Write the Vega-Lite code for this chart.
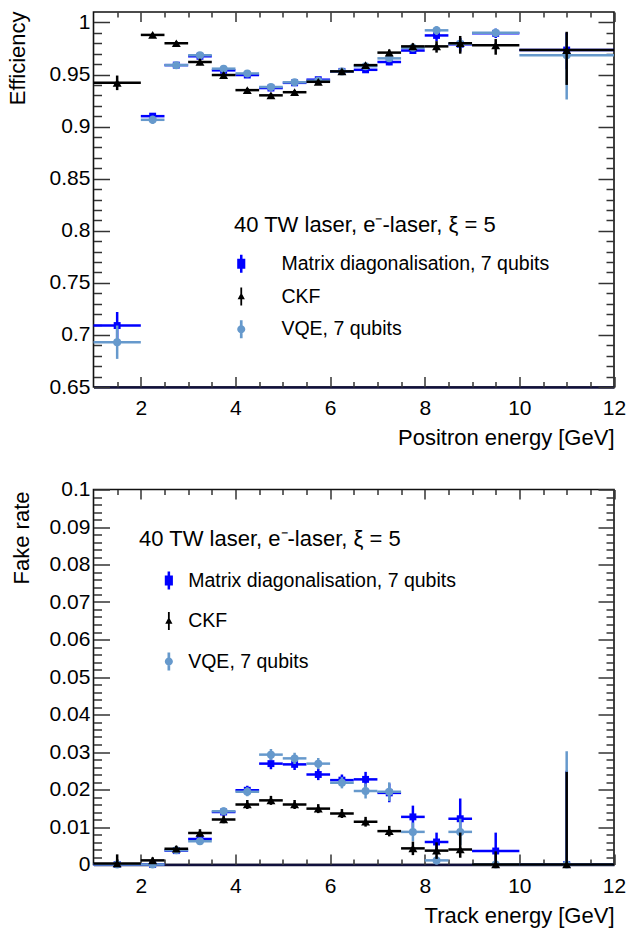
{
"$schema":"https://vega.github.io/schema/vega-lite/v6.json",
"autosize":{"type":"pad"},
"padding":{"left":5.5,"top":10,"right":0,"bottom":0},
"background":"white",
"spacing":102.5,
"bounds":"flush",
"config":{"font":"Liberation Sans","view":{"stroke":"#111","strokeWidth":1.6},
 "axis":{"grid":false,"domain":false,"ticks":false,"labels":false,"labelFont":"Liberation Sans","titleFont":"Liberation Sans","labelColor":"#000","titleColor":"#000","titleFontWeight":"normal","labelFlush":false,"labelOverlap":false,"labelBound":false,"tickColor":"#333","tickWidth":1.5}},
"resolve":{"scale":{"x":"independent","y":"independent","color":"independent"},"axis":{"x":"independent","y":"independent"},"legend":{"color":"independent"}},
"datasets":{
"eff":[
{"s":"Matrix diagonalisation, 7 qubits","x":1.5,"xlo":1,"xhi":2,"y":0.709,"ylo":0.696,"yhi":0.722},
{"s":"Matrix diagonalisation, 7 qubits","x":2.25,"xlo":2,"xhi":2.5,"y":0.91,"ylo":0.907,"yhi":0.913},
{"s":"Matrix diagonalisation, 7 qubits","x":2.75,"xlo":2.5,"xhi":3,"y":0.959,"ylo":0.957,"yhi":0.961},
{"s":"Matrix diagonalisation, 7 qubits","x":3.25,"xlo":3,"xhi":3.5,"y":0.9675,"ylo":0.9655,"yhi":0.9695},
{"s":"Matrix diagonalisation, 7 qubits","x":3.75,"xlo":3.5,"xhi":4,"y":0.954,"ylo":0.952,"yhi":0.956},
{"s":"Matrix diagonalisation, 7 qubits","x":4.25,"xlo":4,"xhi":4.5,"y":0.9495,"ylo":0.9475,"yhi":0.9515},
{"s":"Matrix diagonalisation, 7 qubits","x":4.75,"xlo":4.5,"xhi":5,"y":0.937,"ylo":0.935,"yhi":0.939},
{"s":"Matrix diagonalisation, 7 qubits","x":5.25,"xlo":5,"xhi":5.5,"y":0.942,"ylo":0.94,"yhi":0.944},
{"s":"Matrix diagonalisation, 7 qubits","x":5.75,"xlo":5.5,"xhi":6,"y":0.945,"ylo":0.943,"yhi":0.947},
{"s":"Matrix diagonalisation, 7 qubits","x":6.25,"xlo":6,"xhi":6.5,"y":0.953,"ylo":0.951,"yhi":0.955},
{"s":"Matrix diagonalisation, 7 qubits","x":6.75,"xlo":6.5,"xhi":7,"y":0.9545,"ylo":0.9525,"yhi":0.9565},
{"s":"Matrix diagonalisation, 7 qubits","x":7.25,"xlo":7,"xhi":7.5,"y":0.962,"ylo":0.959,"yhi":0.965},
{"s":"Matrix diagonalisation, 7 qubits","x":7.75,"xlo":7.5,"xhi":8,"y":0.973,"ylo":0.97,"yhi":0.976},
{"s":"Matrix diagonalisation, 7 qubits","x":8.25,"xlo":8,"xhi":8.5,"y":0.9875,"ylo":0.982,"yhi":0.993},
{"s":"Matrix diagonalisation, 7 qubits","x":8.75,"xlo":8.5,"xhi":9,"y":0.979,"ylo":0.972,"yhi":0.985},
{"s":"Matrix diagonalisation, 7 qubits","x":9.5,"xlo":9,"xhi":10,"y":0.9895,"ylo":0.985,"yhi":0.994},
{"s":"Matrix diagonalisation, 7 qubits","x":11,"xlo":10,"xhi":12,"y":0.9735,"ylo":0.955,"yhi":0.99},
{"s":"VQE, 7 qubits","x":1.5,"xlo":1,"xhi":2,"y":0.693,"ylo":0.677,"yhi":0.709},
{"s":"VQE, 7 qubits","x":2.25,"xlo":2,"xhi":2.5,"y":0.9065,"ylo":0.9025,"yhi":0.9105},
{"s":"VQE, 7 qubits","x":2.75,"xlo":2.5,"xhi":3,"y":0.959,"ylo":0.957,"yhi":0.961},
{"s":"VQE, 7 qubits","x":3.25,"xlo":3,"xhi":3.5,"y":0.9685,"ylo":0.9665,"yhi":0.9705},
{"s":"VQE, 7 qubits","x":3.75,"xlo":3.5,"xhi":4,"y":0.9556,"ylo":0.9536,"yhi":0.9576},
{"s":"VQE, 7 qubits","x":4.25,"xlo":4,"xhi":4.5,"y":0.951,"ylo":0.949,"yhi":0.953},
{"s":"VQE, 7 qubits","x":4.75,"xlo":4.5,"xhi":5,"y":0.938,"ylo":0.936,"yhi":0.94},
{"s":"VQE, 7 qubits","x":5.25,"xlo":5,"xhi":5.5,"y":0.9425,"ylo":0.9405,"yhi":0.9445},
{"s":"VQE, 7 qubits","x":5.75,"xlo":5.5,"xhi":6,"y":0.944,"ylo":0.942,"yhi":0.946},
{"s":"VQE, 7 qubits","x":6.25,"xlo":6,"xhi":6.5,"y":0.953,"ylo":0.951,"yhi":0.955},
{"s":"VQE, 7 qubits","x":6.75,"xlo":6.5,"xhi":7,"y":0.958,"ylo":0.956,"yhi":0.96},
{"s":"VQE, 7 qubits","x":7.25,"xlo":7,"xhi":7.5,"y":0.9655,"ylo":0.9625,"yhi":0.9685},
{"s":"VQE, 7 qubits","x":7.75,"xlo":7.5,"xhi":8,"y":0.9757,"ylo":0.9727,"yhi":0.9787},
{"s":"VQE, 7 qubits","x":8.25,"xlo":8,"xhi":8.5,"y":0.9924,"ylo":0.988,"yhi":0.9965},
{"s":"VQE, 7 qubits","x":8.75,"xlo":8.5,"xhi":9,"y":0.9795,"ylo":0.974,"yhi":0.985},
{"s":"VQE, 7 qubits","x":9.5,"xlo":9,"xhi":10,"y":0.99,"ylo":0.986,"yhi":0.994},
{"s":"VQE, 7 qubits","x":11,"xlo":10,"xhi":12,"y":0.9684,"ylo":0.926,"yhi":0.988},
{"s":"CKF","x":1.5,"xlo":1,"xhi":2,"y":0.942,"ylo":0.935,"yhi":0.949},
{"s":"CKF","x":2.25,"xlo":2,"xhi":2.5,"y":0.988,"ylo":0.986,"yhi":0.99},
{"s":"CKF","x":2.75,"xlo":2.5,"xhi":3,"y":0.98,"ylo":0.978,"yhi":0.982},
{"s":"CKF","x":3.25,"xlo":3,"xhi":3.5,"y":0.962,"ylo":0.959,"yhi":0.965},
{"s":"CKF","x":3.75,"xlo":3.5,"xhi":4,"y":0.9495,"ylo":0.947,"yhi":0.952},
{"s":"CKF","x":4.25,"xlo":4,"xhi":4.5,"y":0.935,"ylo":0.933,"yhi":0.937},
{"s":"CKF","x":4.75,"xlo":4.5,"xhi":5,"y":0.93,"ylo":0.928,"yhi":0.932},
{"s":"CKF","x":5.25,"xlo":5,"xhi":5.5,"y":0.933,"ylo":0.931,"yhi":0.935},
{"s":"CKF","x":5.75,"xlo":5.5,"xhi":6,"y":0.943,"ylo":0.941,"yhi":0.945},
{"s":"CKF","x":6.25,"xlo":6,"xhi":6.5,"y":0.953,"ylo":0.951,"yhi":0.955},
{"s":"CKF","x":6.75,"xlo":6.5,"xhi":7,"y":0.959,"ylo":0.957,"yhi":0.961},
{"s":"CKF","x":7.25,"xlo":7,"xhi":7.5,"y":0.971,"ylo":0.968,"yhi":0.974},
{"s":"CKF","x":7.75,"xlo":7.5,"xhi":8,"y":0.977,"ylo":0.974,"yhi":0.98},
{"s":"CKF","x":8.25,"xlo":8,"xhi":8.5,"y":0.977,"ylo":0.971,"yhi":0.982},
{"s":"CKF","x":8.75,"xlo":8.5,"xhi":9,"y":0.98,"ylo":0.97,"yhi":0.987},
{"s":"CKF","x":9.5,"xlo":9,"xhi":10,"y":0.978,"ylo":0.969,"yhi":0.984},
{"s":"CKF","x":11,"xlo":10,"xhi":12,"y":0.9735,"ylo":0.94,"yhi":0.991}
],
"fake":[
{"s":"Matrix diagonalisation, 7 qubits","x":1.5,"xlo":1,"xhi":2,"y":0,"ylo":0,"yhi":0.0008},
{"s":"Matrix diagonalisation, 7 qubits","x":2.25,"xlo":2,"xhi":2.5,"y":0,"ylo":0,"yhi":0.0005},
{"s":"Matrix diagonalisation, 7 qubits","x":2.75,"xlo":2.5,"xhi":3,"y":0.0037,"ylo":0.0031,"yhi":0.0043},
{"s":"Matrix diagonalisation, 7 qubits","x":3.25,"xlo":3,"xhi":3.5,"y":0.0068,"ylo":0.006,"yhi":0.0076},
{"s":"Matrix diagonalisation, 7 qubits","x":3.75,"xlo":3.5,"xhi":4,"y":0.014,"ylo":0.013,"yhi":0.015},
{"s":"Matrix diagonalisation, 7 qubits","x":4.25,"xlo":4,"xhi":4.5,"y":0.0198,"ylo":0.0186,"yhi":0.021},
{"s":"Matrix diagonalisation, 7 qubits","x":4.75,"xlo":4.5,"xhi":5,"y":0.0269,"ylo":0.0254,"yhi":0.0284},
{"s":"Matrix diagonalisation, 7 qubits","x":5.25,"xlo":5,"xhi":5.5,"y":0.0267,"ylo":0.0252,"yhi":0.0282},
{"s":"Matrix diagonalisation, 7 qubits","x":5.75,"xlo":5.5,"xhi":6,"y":0.024,"ylo":0.0225,"yhi":0.0255},
{"s":"Matrix diagonalisation, 7 qubits","x":6.25,"xlo":6,"xhi":6.5,"y":0.0225,"ylo":0.021,"yhi":0.024},
{"s":"Matrix diagonalisation, 7 qubits","x":6.75,"xlo":6.5,"xhi":7,"y":0.0227,"ylo":0.0207,"yhi":0.0247},
{"s":"Matrix diagonalisation, 7 qubits","x":7.25,"xlo":7,"xhi":7.5,"y":0.0191,"ylo":0.0166,"yhi":0.0216},
{"s":"Matrix diagonalisation, 7 qubits","x":7.75,"xlo":7.5,"xhi":8,"y":0.0127,"ylo":0.0097,"yhi":0.0157},
{"s":"Matrix diagonalisation, 7 qubits","x":8.25,"xlo":8,"xhi":8.5,"y":0.006,"ylo":0.0035,"yhi":0.0085},
{"s":"Matrix diagonalisation, 7 qubits","x":8.75,"xlo":8.5,"xhi":9,"y":0.0122,"ylo":0.0077,"yhi":0.0176},
{"s":"Matrix diagonalisation, 7 qubits","x":9.5,"xlo":9,"xhi":10,"y":0.0036,"ylo":0,"yhi":0.0085},
{"s":"Matrix diagonalisation, 7 qubits","x":11,"xlo":10,"xhi":12,"y":0,"ylo":0,"yhi":0.025},
{"s":"VQE, 7 qubits","x":1.5,"xlo":1,"xhi":2,"y":0,"ylo":0,"yhi":0.0008},
{"s":"VQE, 7 qubits","x":2.25,"xlo":2,"xhi":2.5,"y":0,"ylo":0,"yhi":0.0005},
{"s":"VQE, 7 qubits","x":2.75,"xlo":2.5,"xhi":3,"y":0.0038,"ylo":0.0032,"yhi":0.0044},
{"s":"VQE, 7 qubits","x":3.25,"xlo":3,"xhi":3.5,"y":0.0062,"ylo":0.0054,"yhi":0.007},
{"s":"VQE, 7 qubits","x":3.75,"xlo":3.5,"xhi":4,"y":0.0142,"ylo":0.0132,"yhi":0.0152},
{"s":"VQE, 7 qubits","x":4.25,"xlo":4,"xhi":4.5,"y":0.0194,"ylo":0.0182,"yhi":0.0206},
{"s":"VQE, 7 qubits","x":4.75,"xlo":4.5,"xhi":5,"y":0.0293,"ylo":0.0278,"yhi":0.0308},
{"s":"VQE, 7 qubits","x":5.25,"xlo":5,"xhi":5.5,"y":0.0283,"ylo":0.0268,"yhi":0.0298},
{"s":"VQE, 7 qubits","x":5.75,"xlo":5.5,"xhi":6,"y":0.0269,"ylo":0.0254,"yhi":0.0284},
{"s":"VQE, 7 qubits","x":6.25,"xlo":6,"xhi":6.5,"y":0.0218,"ylo":0.0203,"yhi":0.0233},
{"s":"VQE, 7 qubits","x":6.75,"xlo":6.5,"xhi":7,"y":0.0196,"ylo":0.0176,"yhi":0.0216},
{"s":"VQE, 7 qubits","x":7.25,"xlo":7,"xhi":7.5,"y":0.0194,"ylo":0.0169,"yhi":0.0219},
{"s":"VQE, 7 qubits","x":7.75,"xlo":7.5,"xhi":8,"y":0.0087,"ylo":0.0062,"yhi":0.0112},
{"s":"VQE, 7 qubits","x":8.25,"xlo":8,"xhi":8.5,"y":0.0011,"ylo":0,"yhi":0.0023},
{"s":"VQE, 7 qubits","x":8.75,"xlo":8.5,"xhi":9,"y":0.0087,"ylo":0.0052,"yhi":0.0122},
{"s":"VQE, 7 qubits","x":9.5,"xlo":9,"xhi":10,"y":0,"ylo":0,"yhi":0.0008},
{"s":"VQE, 7 qubits","x":11,"xlo":10,"xhi":12,"y":0,"ylo":0,"yhi":0.0302},
{"s":"CKF","x":1.5,"xlo":1,"xhi":2,"y":0.0003,"ylo":0,"yhi":0.0027},
{"s":"CKF","x":2.25,"xlo":2,"xhi":2.5,"y":0.0011,"ylo":0.0003,"yhi":0.0019},
{"s":"CKF","x":2.75,"xlo":2.5,"xhi":3,"y":0.0042,"ylo":0.0034,"yhi":0.005},
{"s":"CKF","x":3.25,"xlo":3,"xhi":3.5,"y":0.0084,"ylo":0.0074,"yhi":0.0094},
{"s":"CKF","x":3.75,"xlo":3.5,"xhi":4,"y":0.012,"ylo":0.011,"yhi":0.013},
{"s":"CKF","x":4.25,"xlo":4,"xhi":4.5,"y":0.016,"ylo":0.0148,"yhi":0.0172},
{"s":"CKF","x":4.75,"xlo":4.5,"xhi":5,"y":0.0171,"ylo":0.0159,"yhi":0.0183},
{"s":"CKF","x":5.25,"xlo":5,"xhi":5.5,"y":0.016,"ylo":0.0148,"yhi":0.0172},
{"s":"CKF","x":5.75,"xlo":5.5,"xhi":6,"y":0.0149,"ylo":0.0137,"yhi":0.0161},
{"s":"CKF","x":6.25,"xlo":6,"xhi":6.5,"y":0.0136,"ylo":0.0124,"yhi":0.0148},
{"s":"CKF","x":6.75,"xlo":6.5,"xhi":7,"y":0.0114,"ylo":0.0101,"yhi":0.0127},
{"s":"CKF","x":7.25,"xlo":7,"xhi":7.5,"y":0.0089,"ylo":0.0075,"yhi":0.0103},
{"s":"CKF","x":7.75,"xlo":7.5,"xhi":8,"y":0.0043,"ylo":0.0025,"yhi":0.0061},
{"s":"CKF","x":8.25,"xlo":8,"xhi":8.5,"y":0.0037,"ylo":0.0015,"yhi":0.0059},
{"s":"CKF","x":8.75,"xlo":8.5,"xhi":9,"y":0.004,"ylo":0.0018,"yhi":0.0085},
{"s":"CKF","x":9.5,"xlo":9,"xhi":10,"y":0,"ylo":0,"yhi":0.0035},
{"s":"CKF","x":11,"xlo":10,"xhi":12,"y":0,"ylo":0,"yhi":0.0247}
]},
"vconcat":[
{"width":520.5,"height":375,"data":{"name":"eff"},
 "resolve":{"axis":{"x":"independent","y":"independent"}},
 "layer":[
 {"transform":[{"filter":"datum.s==='Matrix diagonalisation, 7 qubits'"}],
  "mark":{"type":"rule","color":"#0000ff","strokeWidth":2.5},
  "encoding":{"x":{"field":"xlo","type":"quantitative","scale":{"domain":[1,12],"nice":false,"zero":false},
     "axis":{"orient":"bottom","values":[2,4,6,8,10,12],"format":"d","labels":true,"labelFontSize":21,"labelPadding":10.3,"labelBaseline":"top","domain":true,"domainColor":"#10103c","domainWidth":2.5,"ticks":false,"title":"Positron energy [GeV]","titleFontSize":22,"titleX":520.5,"titleY":57,"titleAlign":"right","titleBaseline":"alphabetic","titleAngle":0}},
   "x2":{"field":"xhi"},
   "y":{"field":"y","type":"quantitative","scale":{"domain":[0.65,1.01],"nice":false,"zero":false},
     "axis":{"orient":"left","values":[0.65,0.7,0.75,0.8,0.85,0.9,0.95,1],"format":".2~f","labels":true,"labelFontSize":21,"labelPadding":3.6,"ticks":false,"title":"Efficiency","titleFontSize":22,"titleAngle":-90,"titleX":-68.6,"titleY":-1,"titleAlign":"right","titleBaseline":"alphabetic"}}}},
 {"transform":[{"filter":"datum.s==='Matrix diagonalisation, 7 qubits'"}],
  "mark":{"type":"rule","color":"#0000ff","strokeWidth":2.5},
  "encoding":{"x":{"field":"x","type":"quantitative","scale":{"domain":[1,12],"nice":false,"zero":false},
     "axis":{"orient":"bottom","values":[2,4,6,8,10,12],"ticks":true,"tickSize":-10.5,"title":null}},
   "y":{"field":"ylo","type":"quantitative","scale":{"domain":[0.65,1.01],"nice":false,"zero":false},
     "axis":{"orient":"left","values":[0.65,0.7,0.75,0.8,0.85,0.9,0.95,1],"ticks":true,"tickSize":-16,"title":null}},
   "y2":{"field":"yhi"}}},
 {"transform":[{"filter":"datum.s==='Matrix diagonalisation, 7 qubits'"}],
  "mark":{"type":"point","shape":"square","filled":true,"size":48,"opacity":1},
  "encoding":{"x":{"field":"x","type":"quantitative","scale":{"domain":[1,12],"nice":false,"zero":false},
     "axis":{"orient":"bottom","values":[1.5,2.5,3,3.5,4.5,5,5.5,6.5,7,7.5,8.5,9,9.5,10.5,11,11.5],"ticks":true,"tickSize":-5.5,"title":null}},
   "y":{"field":"y","type":"quantitative","scale":{"domain":[0.65,1.01],"nice":false,"zero":false},
     "axis":{"orient":"left","values":[0.66,0.67,0.68,0.69,0.71,0.72,0.73,0.74,0.76,0.77,0.78,0.79,0.81,0.82,0.83,0.84,0.86,0.87,0.88,0.89,0.91,0.92,0.93,0.94,0.96,0.97,0.98,0.99],"ticks":true,"tickSize":-8,"title":null}},
   "color":{"field":"s","type":"nominal","scale":{"domain":["Matrix diagonalisation, 7 qubits","CKF","VQE, 7 qubits"],"range":["#0000ff","#000000","#6699cc"]},
     "legend":{"orient":"none","legendX":140.5,"legendY":203.2,"title":"40 TW laser, e⁻-laser, ξ = 5","titleFontSize":22,"titleFontWeight":"normal","titleColor":"#000","titleFont":"Liberation Sans","titlePadding":16.8,"titleLimit":600,"labelFontSize":19.5,"labelColor":"#000","labelFont":"Liberation Sans","labelLimit":600,"labelOffset":30.4,"symbolOffset":-2.5,"symbolSize":324,"symbolStrokeWidth":0,"symbolOpacity":1,"rowPadding":11.8,"padding":0,
      "encode":{"symbols":{"update":{"shape":{"signal":"datum.value==='CKF' ? 'M-0.1,-1h0.2v2h-0.2zM0,-0.45L0.4,0.3L-0.4,0.3z' : datum.value==='VQE, 7 qubits' ? 'M-0.15,-1h0.3v2h-0.3zM-0.45,0A0.45,0.45 0 1,1 0.45,0A0.45,0.45 0 1,1 -0.45,0z' : 'M-0.14,-1h0.28v2h-0.28zM-0.45,-0.55h0.9v1.1h-0.9z'"}}}}}}}},
 {"transform":[{"filter":"datum.s==='VQE, 7 qubits'"}],
  "mark":{"type":"rule","color":"#6699cc","strokeWidth":2.5},
  "encoding":{"x":{"field":"xlo","type":"quantitative","scale":{"domain":[1,12],"nice":false,"zero":false},
     "axis":{"orient":"top","values":[2,4,6,8,10,12],"ticks":true,"tickSize":-9.5,"title":null}},
   "x2":{"field":"xhi"},
   "y":{"field":"y","type":"quantitative","scale":{"domain":[0.65,1.01],"nice":false,"zero":false},
     "axis":{"orient":"right","values":[0.65,0.7,0.75,0.8,0.85,0.9,0.95,1],"ticks":true,"tickSize":-16,"title":null}}}},
 {"transform":[{"filter":"datum.s==='VQE, 7 qubits'"}],
  "mark":{"type":"rule","color":"#6699cc","strokeWidth":2.5},
  "encoding":{"x":{"field":"x","type":"quantitative","scale":{"domain":[1,12],"nice":false,"zero":false},
     "axis":{"orient":"top","values":[1.5,2.5,3,3.5,4.5,5,5.5,6.5,7,7.5,8.5,9,9.5,10.5,11,11.5],"ticks":true,"tickSize":-5,"title":null}},
   "y":{"field":"ylo","type":"quantitative","scale":{"domain":[0.65,1.01],"nice":false,"zero":false},
     "axis":{"orient":"right","values":[0.66,0.67,0.68,0.69,0.71,0.72,0.73,0.74,0.76,0.77,0.78,0.79,0.81,0.82,0.83,0.84,0.86,0.87,0.88,0.89,0.91,0.92,0.93,0.94,0.96,0.97,0.98,0.99],"ticks":true,"tickSize":-8,"title":null}},
   "y2":{"field":"yhi"}}},
 {"transform":[{"filter":"datum.s==='VQE, 7 qubits'"}],
  "mark":{"type":"point","shape":"circle","filled":true,"size":64,"opacity":1},
  "encoding":{"x":{"field":"x","type":"quantitative","scale":{"domain":[1,12],"nice":false,"zero":false},"axis":null},
   "y":{"field":"y","type":"quantitative","scale":{"domain":[0.65,1.01],"nice":false,"zero":false},"axis":null},
   "color":{"field":"s","type":"nominal","scale":{"domain":["Matrix diagonalisation, 7 qubits","CKF","VQE, 7 qubits"],"range":["#0000ff","#000000","#6699cc"]}}}},
 {"transform":[{"filter":"datum.s==='CKF'"}],
  "mark":{"type":"rule","color":"#000000","strokeWidth":2.5},
  "encoding":{"x":{"field":"xlo","type":"quantitative","scale":{"domain":[1,12],"nice":false,"zero":false},"axis":null},
   "x2":{"field":"xhi"},
   "y":{"field":"y","type":"quantitative","scale":{"domain":[0.65,1.01],"nice":false,"zero":false},"axis":null}}},
 {"transform":[{"filter":"datum.s==='CKF'"}],
  "mark":{"type":"rule","color":"#000000","strokeWidth":2.5},
  "encoding":{"x":{"field":"x","type":"quantitative","scale":{"domain":[1,12],"nice":false,"zero":false},"axis":null},
   "y":{"field":"ylo","type":"quantitative","scale":{"domain":[0.65,1.01],"nice":false,"zero":false},"axis":null},
   "y2":{"field":"yhi"}}},
 {"transform":[{"filter":"datum.s==='CKF'"}],
  "mark":{"type":"point","shape":"triangle-up","filled":true,"size":80,"opacity":1},
  "encoding":{"x":{"field":"x","type":"quantitative","scale":{"domain":[1,12],"nice":false,"zero":false},"axis":null},
   "y":{"field":"y","type":"quantitative","scale":{"domain":[0.65,1.01],"nice":false,"zero":false},"axis":null},
   "color":{"field":"s","type":"nominal","scale":{"domain":["Matrix diagonalisation, 7 qubits","CKF","VQE, 7 qubits"],"range":["#0000ff","#000000","#6699cc"]}}}}
 ]},
{"width":520.5,"height":375,"data":{"name":"fake"},
 "resolve":{"axis":{"x":"independent","y":"independent"}},
 "layer":[
 {"transform":[{"filter":"datum.s==='Matrix diagonalisation, 7 qubits'"}],
  "mark":{"type":"rule","color":"#0000ff","strokeWidth":2.5},
  "encoding":{"x":{"field":"xlo","type":"quantitative","scale":{"domain":[1,12],"nice":false,"zero":false},
     "axis":{"orient":"bottom","values":[2,4,6,8,10,12],"format":"d","labels":true,"labelFontSize":21,"labelPadding":11.4,"labelBaseline":"top","domain":true,"domainColor":"#10103c","domainWidth":2.5,"ticks":false,"title":"Track energy [GeV]","titleFontSize":22,"titleX":520.5,"titleY":58.4,"titleAlign":"right","titleBaseline":"alphabetic","titleAngle":0}},
   "x2":{"field":"xhi"},
   "y":{"field":"y","type":"quantitative","scale":{"domain":[0,0.1],"nice":false,"zero":false},
     "axis":{"orient":"left","values":[0,0.01,0.02,0.03,0.04,0.05,0.06,0.07,0.08,0.09,0.1],"format":".2~f","labels":true,"labelFontSize":21,"labelPadding":3.6,"ticks":false,"title":"Fake rate","titleFontSize":22,"titleAngle":-90,"titleX":-65.4,"titleY":1.5,"titleAlign":"right","titleBaseline":"alphabetic"}}}},
 {"transform":[{"filter":"datum.s==='Matrix diagonalisation, 7 qubits'"}],
  "mark":{"type":"rule","color":"#0000ff","strokeWidth":2.5},
  "encoding":{"x":{"field":"x","type":"quantitative","scale":{"domain":[1,12],"nice":false,"zero":false},
     "axis":{"orient":"bottom","values":[2,4,6,8,10,12],"ticks":true,"tickSize":-10.5,"title":null}},
   "y":{"field":"ylo","type":"quantitative","scale":{"domain":[0,0.1],"nice":false,"zero":false},
     "axis":{"orient":"left","values":[0,0.01,0.02,0.03,0.04,0.05,0.06,0.07,0.08,0.09,0.1],"ticks":true,"tickSize":-16,"title":null}},
   "y2":{"field":"yhi"}}},
 {"transform":[{"filter":"datum.s==='Matrix diagonalisation, 7 qubits'"}],
  "mark":{"type":"point","shape":"square","filled":true,"size":48,"opacity":1},
  "encoding":{"x":{"field":"x","type":"quantitative","scale":{"domain":[1,12],"nice":false,"zero":false},
     "axis":{"orient":"bottom","values":[1.5,2.5,3,3.5,4.5,5,5.5,6.5,7,7.5,8.5,9,9.5,10.5,11,11.5],"ticks":true,"tickSize":-5.5,"title":null}},
   "y":{"field":"y","type":"quantitative","scale":{"domain":[0,0.1],"nice":false,"zero":false},
     "axis":{"orient":"left","values":[0.002,0.004,0.006,0.008,0.012,0.014,0.016,0.018,0.022,0.024,0.026,0.028,0.032,0.034,0.036,0.038,0.042,0.044,0.046,0.048,0.052,0.054,0.056,0.058,0.062,0.064,0.066,0.068,0.072,0.074,0.076,0.078,0.082,0.084,0.086,0.088,0.092,0.094,0.096,0.098],"ticks":true,"tickSize":-8,"title":null}},
   "color":{"field":"s","type":"nominal","scale":{"domain":["Matrix diagonalisation, 7 qubits","CKF","VQE, 7 qubits"],"range":["#0000ff","#000000","#6699cc"]},
     "legend":{"orient":"none","legendX":45.6,"legendY":39.3,"title":"40 TW laser, e⁻-laser, ξ = 5","titleFontSize":22,"titleFontWeight":"normal","titleColor":"#000","titleFont":"Liberation Sans","titlePadding":20,"titleLimit":600,"labelFontSize":19.5,"labelColor":"#000","labelFont":"Liberation Sans","labelLimit":600,"labelOffset":9.6,"symbolOffset":20,"symbolSize":324,"symbolStrokeWidth":0,"symbolOpacity":1,"rowPadding":19.5,"padding":0,
      "encode":{"symbols":{"update":{"shape":{"signal":"datum.value==='CKF' ? 'M-0.1,-1h0.2v2h-0.2zM0,-0.45L0.4,0.3L-0.4,0.3z' : datum.value==='VQE, 7 qubits' ? 'M-0.15,-1h0.3v2h-0.3zM-0.45,0A0.45,0.45 0 1,1 0.45,0A0.45,0.45 0 1,1 -0.45,0z' : 'M-0.14,-1h0.28v2h-0.28zM-0.45,-0.55h0.9v1.1h-0.9z'"}}}}}}}},
 {"transform":[{"filter":"datum.s==='VQE, 7 qubits'"}],
  "mark":{"type":"rule","color":"#6699cc","strokeWidth":2.5},
  "encoding":{"x":{"field":"xlo","type":"quantitative","scale":{"domain":[1,12],"nice":false,"zero":false},
     "axis":{"orient":"top","values":[2,4,6,8,10,12],"ticks":true,"tickSize":-9.5,"title":null}},
   "x2":{"field":"xhi"},
   "y":{"field":"y","type":"quantitative","scale":{"domain":[0,0.1],"nice":false,"zero":false},
     "axis":{"orient":"right","values":[0,0.01,0.02,0.03,0.04,0.05,0.06,0.07,0.08,0.09,0.1],"ticks":true,"tickSize":-16,"title":null}}}},
 {"transform":[{"filter":"datum.s==='VQE, 7 qubits'"}],
  "mark":{"type":"rule","color":"#6699cc","strokeWidth":2.5},
  "encoding":{"x":{"field":"x","type":"quantitative","scale":{"domain":[1,12],"nice":false,"zero":false},
     "axis":{"orient":"top","values":[1.5,2.5,3,3.5,4.5,5,5.5,6.5,7,7.5,8.5,9,9.5,10.5,11,11.5],"ticks":true,"tickSize":-5,"title":null}},
   "y":{"field":"ylo","type":"quantitative","scale":{"domain":[0,0.1],"nice":false,"zero":false},
     "axis":{"orient":"right","values":[0.002,0.004,0.006,0.008,0.012,0.014,0.016,0.018,0.022,0.024,0.026,0.028,0.032,0.034,0.036,0.038,0.042,0.044,0.046,0.048,0.052,0.054,0.056,0.058,0.062,0.064,0.066,0.068,0.072,0.074,0.076,0.078,0.082,0.084,0.086,0.088,0.092,0.094,0.096,0.098],"ticks":true,"tickSize":-8,"title":null}},
   "y2":{"field":"yhi"}}},
 {"transform":[{"filter":"datum.s==='VQE, 7 qubits'"}],
  "mark":{"type":"point","shape":"circle","filled":true,"size":64,"opacity":1},
  "encoding":{"x":{"field":"x","type":"quantitative","scale":{"domain":[1,12],"nice":false,"zero":false},"axis":null},
   "y":{"field":"y","type":"quantitative","scale":{"domain":[0,0.1],"nice":false,"zero":false},"axis":null},
   "color":{"field":"s","type":"nominal","scale":{"domain":["Matrix diagonalisation, 7 qubits","CKF","VQE, 7 qubits"],"range":["#0000ff","#000000","#6699cc"]}}}},
 {"transform":[{"filter":"datum.s==='CKF'"}],
  "mark":{"type":"rule","color":"#000000","strokeWidth":2.5},
  "encoding":{"x":{"field":"xlo","type":"quantitative","scale":{"domain":[1,12],"nice":false,"zero":false},"axis":null},
   "x2":{"field":"xhi"},
   "y":{"field":"y","type":"quantitative","scale":{"domain":[0,0.1],"nice":false,"zero":false},"axis":null}}},
 {"transform":[{"filter":"datum.s==='CKF'"}],
  "mark":{"type":"rule","color":"#000000","strokeWidth":2.5},
  "encoding":{"x":{"field":"x","type":"quantitative","scale":{"domain":[1,12],"nice":false,"zero":false},"axis":null},
   "y":{"field":"ylo","type":"quantitative","scale":{"domain":[0,0.1],"nice":false,"zero":false},"axis":null},
   "y2":{"field":"yhi"}}},
 {"transform":[{"filter":"datum.s==='CKF'"}],
  "mark":{"type":"point","shape":"triangle-up","filled":true,"size":80,"opacity":1},
  "encoding":{"x":{"field":"x","type":"quantitative","scale":{"domain":[1,12],"nice":false,"zero":false},"axis":null},
   "y":{"field":"y","type":"quantitative","scale":{"domain":[0,0.1],"nice":false,"zero":false},"axis":null},
   "color":{"field":"s","type":"nominal","scale":{"domain":["Matrix diagonalisation, 7 qubits","CKF","VQE, 7 qubits"],"range":["#0000ff","#000000","#6699cc"]}}}}
 ]}
]}
